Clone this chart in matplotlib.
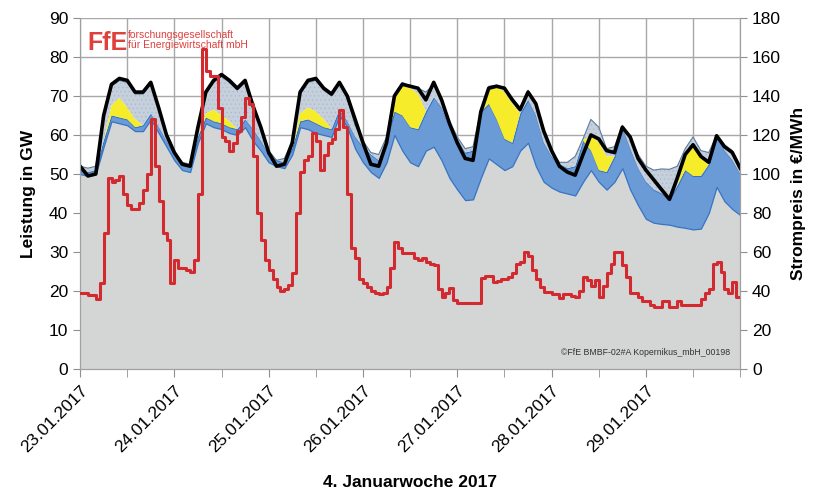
import numpy as np
import matplotlib
matplotlib.use("Agg")
import matplotlib.pyplot as plt

plt.rcParams['font.family'] = ['Liberation Sans', 'DejaVu Sans']
plt.rcParams['hatch.linewidth'] = 0.4

# Stunden der Woche (2-h-Raster fuer die Flaechen)
stunden = np.arange(0, 169, 2)

# Last (schwarze Linie), GW
last = [52, 49.5, 50, 65, 73, 74.5, 74, 71, 71, 73.5, 67, 60,
        55.5, 52.5, 52, 62, 71, 74, 75.5, 74, 72, 74, 67.5, 62,
        55.5, 52, 52.5, 58, 71, 74, 74.5, 72, 70.5, 73.5, 70, 64,
        58, 52.5, 52, 58, 70, 73, 72.5, 72, 69, 73.5, 69, 63,
        58, 54, 53.5, 66, 72, 72.5, 72, 69, 66.5, 71, 68, 61,
        56, 52, 50.5, 49.7, 55, 60, 59, 56, 55.5, 62, 59.5, 54,
        51, 48.5, 46, 43.5, 49, 55, 57.5, 54.5, 53, 59.8, 57, 55.5, 51.5]

# Oberkanten der gestapelten Flaechen, GW
konv_oben = [50, 49.5, 50, 57, 63.5, 63, 62.5, 61, 61, 64, 60.5, 57,
             53.5, 51, 50.5, 58, 63, 62, 61.5, 60.5, 60, 62, 58.5, 56,
             53, 52, 51.5, 55, 62, 61.5, 60.5, 60, 59.5, 65, 62, 56.5,
             53, 50.5, 49, 53, 60, 56, 53, 52, 56, 57, 53.5, 49,
             46, 43.3, 43.5, 49, 54, 52.5, 51, 52, 56, 58, 52, 48,
             46.5, 45.5, 45, 44.5, 48, 51, 48, 46, 48, 51.5, 46, 42,
             38.5, 37.5, 37.2, 37, 36.5, 36.2, 35.8, 36, 40, 46.7, 43, 41, 39.5]

wind_oben = [51, 50.5, 51, 58.5, 65, 64.5, 64, 62, 62.5, 65.5, 62, 58.5,
             55, 52.5, 52, 59.5, 64.5, 63.5, 63, 62, 61.5, 64, 61.5, 58.5,
             55, 53.5, 53, 56.5, 63.5, 64, 63, 62, 61.5, 66.5, 63.5, 59.5,
             57, 55, 53.5, 59, 66, 65, 62, 61.5, 66, 69.7, 67, 62,
             59, 55.5, 56, 66, 68, 64, 59, 58, 65.5, 69, 65, 58,
             54.5, 52.5, 51.5, 52, 58.5, 56, 51, 50.5, 54.5, 62, 56.5, 51.5,
             48, 46, 45, 43.5, 47, 51, 49.5, 49.5, 52.5, 60, 56, 53.5, 50]

pv_oben = [51, 50.5, 51, 58.5, 67.5, 69.5, 67, 64, 62.5, 65.5, 62, 58.5,
           55, 52.5, 52, 59.5, 65.5, 66.5, 65, 63.5, 61.5, 64, 61.5, 58.5,
           55, 53.5, 53, 56.5, 65.5, 67, 66, 64, 61.5, 66.5, 63.5, 59.5,
           57, 55, 53.5, 59, 69, 72.5, 72, 70.5, 66, 69.7, 67, 62,
           59, 55.5, 56, 66, 72, 72.3, 71, 68, 65.5, 69, 65, 58,
           54.5, 52.5, 51.5, 52, 58.5, 60, 58, 54.5, 54.5, 62, 56.5, 51.5,
           48, 46, 45, 43.5, 47, 55, 57.5, 54.5, 53, 60, 56, 53.5, 50]

gesamt_oben = [52, 51.5, 52, 64, 72.5, 74, 73.5, 70.5, 70.5, 73, 66.5, 60,
               55.5, 53, 52.5, 62, 70.5, 73.5, 75, 73.5, 71.5, 73.5, 67.5, 62.5,
               56, 53.5, 54, 58.5, 70.5, 73.5, 74, 71.5, 70, 73, 69.5, 62.5,
               58.5, 55.5, 55, 59.5, 70.5, 73.5, 72.5, 72, 71, 73, 69.5, 63.5,
               59.5, 56.5, 57, 66.5, 72.5, 72.8, 72, 69.5, 67, 71.5, 68.5, 61,
               56, 53, 53, 54.5, 59, 64, 62, 56.5, 57, 62.5, 59.5, 55,
               52, 51, 51.3, 51.2, 52, 56.5, 59.5, 56, 55.5, 60, 57.5, 56, 52]

# Strompreis stuendlich, EUR/MWh
preis = [39, 39, 38, 38, 36, 44, 70, 98, 96, 97, 99, 90,
         84, 82, 82, 85, 92, 100, 128, 104, 86, 70, 66, 44,
         56, 52, 52, 51, 50, 56, 90, 164, 153, 150, 150, 134,
         119, 117, 112, 116, 122, 129, 139, 136, 109, 80, 66, 56,
         51, 46, 42, 40, 41, 43, 49, 80, 101, 107, 109, 121,
         117, 102, 110, 116, 118, 123, 133, 124, 90, 62, 57, 46,
         44, 42, 40, 39, 38.5, 39, 42, 52, 65, 62, 59.5, 59.5,
         59.5, 57, 56, 57, 55, 54, 53.5, 41, 37, 39, 41.5, 35.5,
         34, 34, 33.8, 33.8, 33.8, 34, 46.7, 47.5, 47.5, 44.5, 45, 46,
         46, 47, 49, 54, 55, 60, 58, 51, 46, 42, 39.5, 39.5,
         38.5, 38.5, 36.4, 38.5, 38.5, 37.5, 37, 40, 47, 45.6, 42.6, 45.6,
         37, 42.6, 49, 54, 60, 60, 53.5, 47, 39, 39, 37, 35,
         35, 33, 32, 32, 35, 35, 32, 32, 35, 33, 33, 33,
         33, 33, 36, 39, 41, 54, 55, 50, 41, 39, 44.5, 37]

tage = ['23.01.2017', '24.01.2017', '25.01.2017', '26.01.2017',
        '27.01.2017', '28.01.2017', '29.01.2017']

fig = plt.figure(figsize=(8.17, 4.93), dpi=100)
ax = fig.add_axes([0.098, 0.2515, 0.808, 0.712])

grau = '#d4d5d5'
ax.fill_between(stunden, 0, konv_oben, color=grau, lw=0, zorder=2)
ax.fill_between(stunden, konv_oben, wind_oben, facecolor='#6a9bd6',
                edgecolor='#3574c4', lw=0.9, zorder=3)
ax.fill_between(stunden, wind_oben, pv_oben, facecolor='#f7ec2a',
                edgecolor='none', lw=0, zorder=4)
ax.fill_between(stunden, pv_oben, gesamt_oben, facecolor='#c5d0dc',
                edgecolor='#a9b8c9', hatch='....', lw=0, zorder=3)
ax.plot(stunden, gesamt_oben, color='#5d7b9c', lw=0.8, zorder=5)
ax.plot(stunden, last, color='black', lw=2.6, zorder=7)

ax.set_xlim(0, 168)
ax.set_ylim(0, 90)
ax.set_yticks(np.arange(0, 91, 10))
ax.set_xticks(np.arange(0, 145, 24))
ax.set_xticklabels(tage, rotation=45, ha='right', rotation_mode='anchor', fontsize=12.5)
ax.set_xticks(np.arange(0, 169, 12), minor=True)
ax.tick_params(axis='y', labelsize=12.5, length=5, color='#909090', direction='out')
ax.tick_params(axis='x', which='both', length=6, color='#909090', direction='out', pad=4)
ax.set_axisbelow(True)
ax.grid(True, which='both', axis='x', color='#a8a8a8', lw=1.0)
ax.grid(True, which='major', axis='y', color='#a8a8a8', lw=1.0)
for sp in ax.spines.values():
    sp.set_color('#a0a0a0')
    sp.set_zorder(8)
ax.spines['top'].set_visible(False)

ax.set_ylabel('Leistung in GW', fontsize=12.5, fontweight='bold', labelpad=9)
ax.set_xlabel('4. Januarwoche 2017', fontsize=12.5, fontweight='bold', labelpad=14)

ax2 = ax.twinx()
ax2.step(np.arange(0, 169), preis + [preis[-1]], where='post', color='#d22a2e', lw=2.2, zorder=6)
ax2.set_ylim(0, 180)
ax2.set_yticks(np.arange(0, 181, 20))
ax2.tick_params(axis='y', labelsize=12.5, length=5, color='#909090', direction='out')
for sp in ax2.spines.values():
    sp.set_color('#a0a0a0')
ax2.spines['top'].set_visible(False)
ax2.set_ylabel('Strompreis in €/MWh', fontsize=12.5, fontweight='bold', labelpad=7)

# Logo und Quellenvermerk
ax.text(0.011, 0.962, 'FfE', transform=ax.transAxes, color='#e0403c', fontsize=18,
        fontweight='bold', va='top', ha='left', zorder=8)
ax.text(0.072, 0.965, 'forschungsgesellschaft\nfür Energiewirtschaft mbH', transform=ax.transAxes,
        color='#e0403c', fontsize=7.5, va='top', ha='left', linespacing=1.0, zorder=8)
ax.text(0.985, 0.035, '©FfE BMBF-02#A Kopernikus_mbH_00198', transform=ax.transAxes,
        color='#333333', fontsize=6.3, va='bottom', ha='right', zorder=8)

fig.savefig('out.png', dpi=100)
